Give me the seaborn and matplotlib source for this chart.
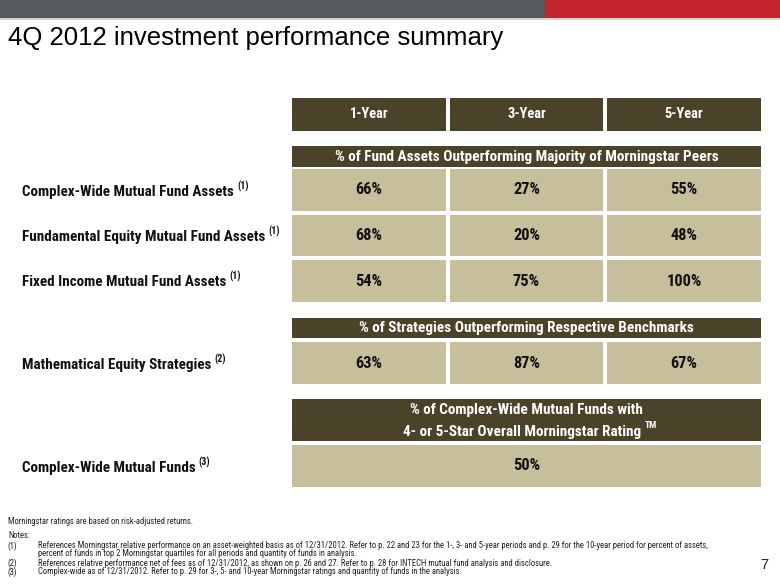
import numpy as np
import pandas as pd
import matplotlib
matplotlib.use("Agg")
import matplotlib.pyplot as plt
from matplotlib.colors import ListedColormap
from matplotlib.patches import Rectangle
from matplotlib import font_manager as fm
import seaborn as sns

# ---------------- data ----------------
periods = ["1-Year", "3-Year", "5-Year"]
peer_rows = ["Complex-Wide Mutual Fund Assets", "Fundamental Equity Mutual Fund Assets",
             "Fixed Income Mutual Fund Assets"]
peer_notes = ["(1)", "(1)", "(1)"]
complex_wide = [66, 27, 55]
fundamental_equity = [68, 20, 48]
fixed_income = [54, 75, 100]
math_row = "Mathematical Equity Strategies"
math_note = "(2)"
math_equity = [63, 87, 67]
rating_row = "Complex-Wide Mutual Funds"
rating_note = "(3)"
rating_value = [50]

title = "4Q 2012 investment performance summary"
peer_header = "% of Fund Assets Outperforming Majority of Morningstar Peers"
bench_header = "% of Strategies Outperforming Respective Benchmarks"
rating_header_1 = "% of Complex-Wide Mutual Funds with"
rating_header_2 = "4- or 5-Star Overall Morningstar Rating"
footnote_main = "Morningstar ratings are based on risk-adjusted returns."
notes_label = "Notes:"
note_ids = ["(1)", "", "(2)", "(3)"]
note_texts = [
    "References Morningstar relative performance on an asset-weighted basis as of 12/31/2012. Refer to p. 22 and 23 for the 1-, 3- and 5-year periods and p. 29 for the 10-year period for percent of assets,",
    "percent of funds in top 2 Morningstar quartiles for all periods and quantity of funds in analysis.",
    "References relative performance net of fees as of 12/31/2012, as shown on p. 26 and 27. Refer to p. 28 for INTECH mutual fund analysis and disclosure.",
    "Complex-wide as of 12/31/2012. Refer to p. 29 for 3-, 5- and 10-year Morningstar ratings and quantity of funds in the analysis.",
]
page_number = "7"

# ---------------- style ----------------
sns.set_theme(style="white")
REG = ["Liberation Sans", "DejaVu Sans"]
NARROW = REG
for cand in ["Liberation Sans Narrow", "Roboto Condensed", "Open Sans Condensed"]:
    try:
        fm.findfont(fm.FontProperties(family=cand), fallback_to_default=False)
        NARROW = [cand] + REG
        break
    except Exception:
        pass
plt.rcParams["font.family"] = REG

DARK = "#4A4329"
CELL = "#C7BE9B"
GRAY = "#565A5D"
RED = "#C5252F"
TXT = "#111111"

W, H = 780, 585
fig = plt.figure(figsize=(7.8, 5.85), dpi=100)
fig.patch.set_facecolor("white")
renderer = fig.canvas.get_renderer()


def fit(text, target_px, **kw):
    t = fig.text(0, 0, text, fontsize=10, **kw)
    w = t.get_window_extent(renderer).width
    t.remove()
    return 10 * target_px / w


S_TITLE = fit(title, 499, family=REG)
S_LABEL = fit(peer_rows[0], 212, family=NARROW, weight="bold")
S_HEAD = fit(peer_header, 385, family=NARROW, weight="bold")
S_YEAR = fit(periods[0], 39, family=NARROW, weight="bold")
S_VAL = fit("66%", 27, family=NARROW, weight="bold")
S_FN = fit(note_texts[0], 673, family=NARROW)

ax = fig.add_axes([0, 0, 1, 1])
ax.set_xlim(0, W)
ax.set_ylim(H, 0)
ax.axis("off")


def px_right(t):
    fig.canvas.draw()
    return t.get_window_extent(fig.canvas.get_renderer()).x1 * W / fig.bbox.width


# top band
ax.add_patch(Rectangle((0, 0), 545, 18, color=GRAY, lw=0))
ax.add_patch(Rectangle((545, 0), W - 545, 18, color=RED, lw=0))
ax.add_patch(Rectangle((0, 18), W, 1.5, color="#D3D3D3", lw=0))

ax.text(8, 45, title, fontsize=S_TITLE, family=REG, color="#000000", va="baseline", ha="left")

col_x = [(292, 446), (450, 603), (607, 761)]

# period headers
for (x0, x1), p in zip(col_x, periods):
    ax.add_patch(Rectangle((x0, 98), x1 - x0, 33, color=DARK, lw=0))
    ax.text((x0 + x1) / 2, 114.5, p, color="white", fontsize=S_YEAR, weight="bold",
            family=NARROW, ha="center", va="center")

# section headers
ax.add_patch(Rectangle((292, 146), 469, 21, color=DARK, lw=0))
ax.text(526.5, 156.5, peer_header, color="white", fontsize=S_HEAD, weight="bold",
        family=NARROW, ha="center", va="center")
ax.add_patch(Rectangle((292, 318), 469, 20, color=DARK, lw=0))
ax.text(526.5, 328, bench_header, color="white", fontsize=S_HEAD, weight="bold",
        family=NARROW, ha="center", va="center")
ax.add_patch(Rectangle((292, 399), 469, 42, color=DARK, lw=0))
ax.text(526.5, 410, rating_header_1, color="white", fontsize=S_HEAD, weight="bold",
        family=NARROW, ha="center", va="center")
t2 = ax.text(522, 432, rating_header_2, color="white", fontsize=S_HEAD, weight="bold",
             family=NARROW, ha="center", va="center")
ax.text(px_right(t2) + 4, 426, "TM", color="white", fontsize=S_HEAD * 0.62, weight="bold",
        family=NARROW, ha="left", va="center")


# row labels with superscript notes
def row_label(y, text, note):
    t = ax.text(22, y, text, fontsize=S_LABEL, weight="bold", family=NARROW,
                color=TXT, ha="left", va="center")
    ax.text(px_right(t) + 3, y - 6, note, fontsize=S_LABEL * 0.65, weight="bold",
            family=NARROW, color=TXT, ha="left", va="center")


row_y = [192, 237, 282]
for y, lbl, n in zip(row_y, peer_rows, peer_notes):
    row_label(y, lbl, n)
row_label(365, math_row, math_note)
row_label(468, rating_row, rating_note)

# value grids drawn with seaborn heatmaps
GAP_PT = 4 * 72 / 100  # 4 px gap in points


def grid(values, x0, x1, y0, y1):
    arr = np.asarray(values, dtype=float)
    df = pd.DataFrame(arr)
    labels = np.vectorize(lambda v: f"{int(v)}%")(arr)
    hax = fig.add_axes([(x0 - 2) / W, 1 - (y1 + 2) / H, (x1 - x0 + 4) / W, (y1 - y0 + 4) / H])
    sns.heatmap(df, ax=hax, cmap=ListedColormap([CELL]), cbar=False,
                linewidths=GAP_PT, linecolor="white", annot=labels, fmt="",
                xticklabels=False, yticklabels=False,
                annot_kws={"fontsize": S_VAL, "weight": "bold", "color": TXT,
                           "family": NARROW})
    hax.set_xlabel("")
    hax.set_ylabel("")
    hax.tick_params(left=False, bottom=False)
    return hax


grid([complex_wide, fundamental_equity, fixed_income], 292, 761, 169, 302)
grid([math_equity], 292, 761, 342, 384)
grid([rating_value], 292, 761, 445, 487)

# footnotes
FC = "#222222"
ax.text(8, 521, footnote_main, fontsize=S_FN, family=NARROW, color=FC, va="center")
ax.text(8, 536, notes_label, fontsize=S_FN, family=NARROW, color=FC, va="center")
note_y = [546, 554, 563, 572]
for y, nid, nt in zip(note_y, note_ids, note_texts):
    if nid:
        ax.text(8, y, nid, fontsize=S_FN, family=NARROW, color=FC, va="center")
    ax.text(38, y, nt, fontsize=S_FN, family=NARROW, color=FC, va="center")

ax.text(764, 565, page_number, fontsize=10.5, family=REG, color=FC, ha="center", va="center")

fig.savefig("out.png", dpi=100, facecolor="white")
